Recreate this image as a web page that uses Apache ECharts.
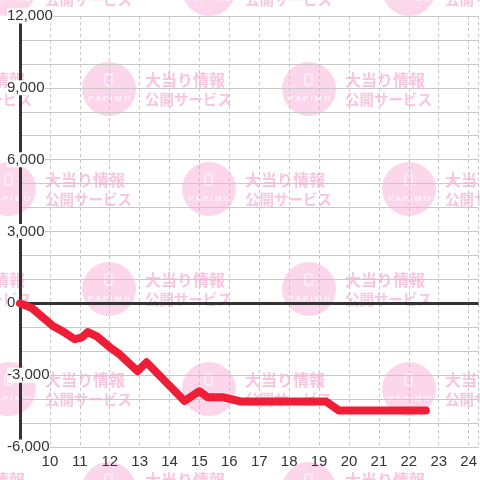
<!DOCTYPE html>
<html>
<head>
<meta charset="utf-8">
<script src="https://cdn.jsdelivr.net/npm/echarts@6/dist/echarts.min.js"></script>
<style>
  html, body { margin: 0; padding: 0; background: #fff; }
  #chart { width: 480px; height: 480px; }
</style>
</head>
<body>
<div id="chart"></div>
<script>
// 時刻 (時) と差枚数
const times  = [9.0, 9.4, 10.1, 10.43, 10.83, 11.07, 11.27, 11.57, 12.0, 12.33, 12.93, 13.23, 14.5, 15.0, 15.27, 15.77, 16.38, 19.23, 19.67, 22.57];
const values = [0, -200, -950, -1170, -1500, -1420, -1200, -1380, -1830, -2130, -2830, -2460, -4080, -3670, -3920, -3920, -4100, -4100, -4480, -4480];

const yMin = -6000;
const yMax = 12000;
const xMin = 9;
const xMax = 24.333;

const lineData = times.map((t, i) => [t, values[i]]);

// 背景の透かし (PAPIMO)
const tileRows = [-11, 89, 189, 289, 389, 489];
const wmCircle = '#fcd6ea';
const wmText = '#f8c6df';
const watermark = [];
tileRows.forEach((cy, r) => {
  const x0 = r % 2 === 1 ? 109 : 9;
  for (let k = -1; k <= 2; k++) {
    const cx = x0 + 200 * k;
    watermark.push({
      type: 'group', silent: true, z: -10,
      children: [
        { type: 'circle', shape: { cx: cx, cy: cy, r: 27 }, style: { fill: wmCircle }, z: -10 },
        { type: 'rect', shape: { x: cx - 4, y: cy - 15, width: 7, height: 11, r: 1 }, style: { fill: 'none', stroke: '#fff', lineWidth: 1 }, z: -9 },
        { type: 'text', x: cx, y: cy + 10, style: { text: 'P A P I M O', fill: '#fff', font: '8px "Liberation Sans"', align: 'center', verticalAlign: 'middle' }, z: -9 },
        { type: 'text', x: cx + 36, y: cy - 9, style: { text: '大当り情報', fill: wmText, font: 'bold 16px "Noto Sans CJK JP"', align: 'left', verticalAlign: 'middle' }, z: -9 },
        { type: 'text', x: cx + 36, y: cy + 10, style: { text: '公開サービス', fill: wmText, font: 'bold 14.5px "Noto Sans CJK JP"', align: 'left', verticalAlign: 'middle' }, z: -9 }
      ]
    });
  }
});

const chart = echarts.init(document.getElementById('chart'));

chart.setOption({
  animation: false,
  backgroundColor: '#fff',
  graphic: watermark,
  grid: { left: 20, right: 0, top: 16, bottom: 33, containLabel: false },
  xAxis: {
    type: 'value',
    min: xMin,
    max: xMax,
    interval: 1,
    axisLine: { show: false },
    axisTick: { show: false },
    axisLabel: {
      showMinLabel: false,
      showMaxLabel: false,
      margin: 7,
      color: '#333',
      fontSize: 15,
      fontFamily: '"Liberation Sans", Arial, sans-serif'
    },
    splitLine: { show: true, lineStyle: { color: '#c4c4c4', type: [3, 3], width: 1 } }
  },
  yAxis: {
    type: 'value',
    min: yMin,
    max: yMax,
    interval: 3000,
    axisLine: { show: true, onZero: false, lineStyle: { color: '#333', width: 3 } },
    axisTick: { show: false },
    axisLabel: {
      align: 'left',
      margin: 13,
      color: '#333',
      fontSize: 15,
      fontFamily: '"Liberation Sans", Arial, sans-serif',
      backgroundColor: '#fff',
      padding: [0, 0],
      formatter: v => v.toLocaleString('en-US')
    },
    splitLine: { show: true, lineStyle: { color: '#c8c8c8', width: 1 } },
    minorTick: { show: false, splitNumber: 3 },
    minorSplitLine: { show: true, lineStyle: { color: '#c8c8c8', width: 1 } }
  },
  series: [{
    type: 'line',
    data: lineData,
    showSymbol: false,
    smooth: false,
    lineStyle: { color: '#ef1e36', width: 8, join: 'round', cap: 'round' },
    z: 5,
    markLine: {
      silent: true,
      symbol: 'none',
      label: { show: false },
      lineStyle: { color: '#333', width: 3, type: 'solid' },
      data: [{ yAxis: 0 }],
      z: 3
    }
  }]
});
</script>
</body>
</html>
